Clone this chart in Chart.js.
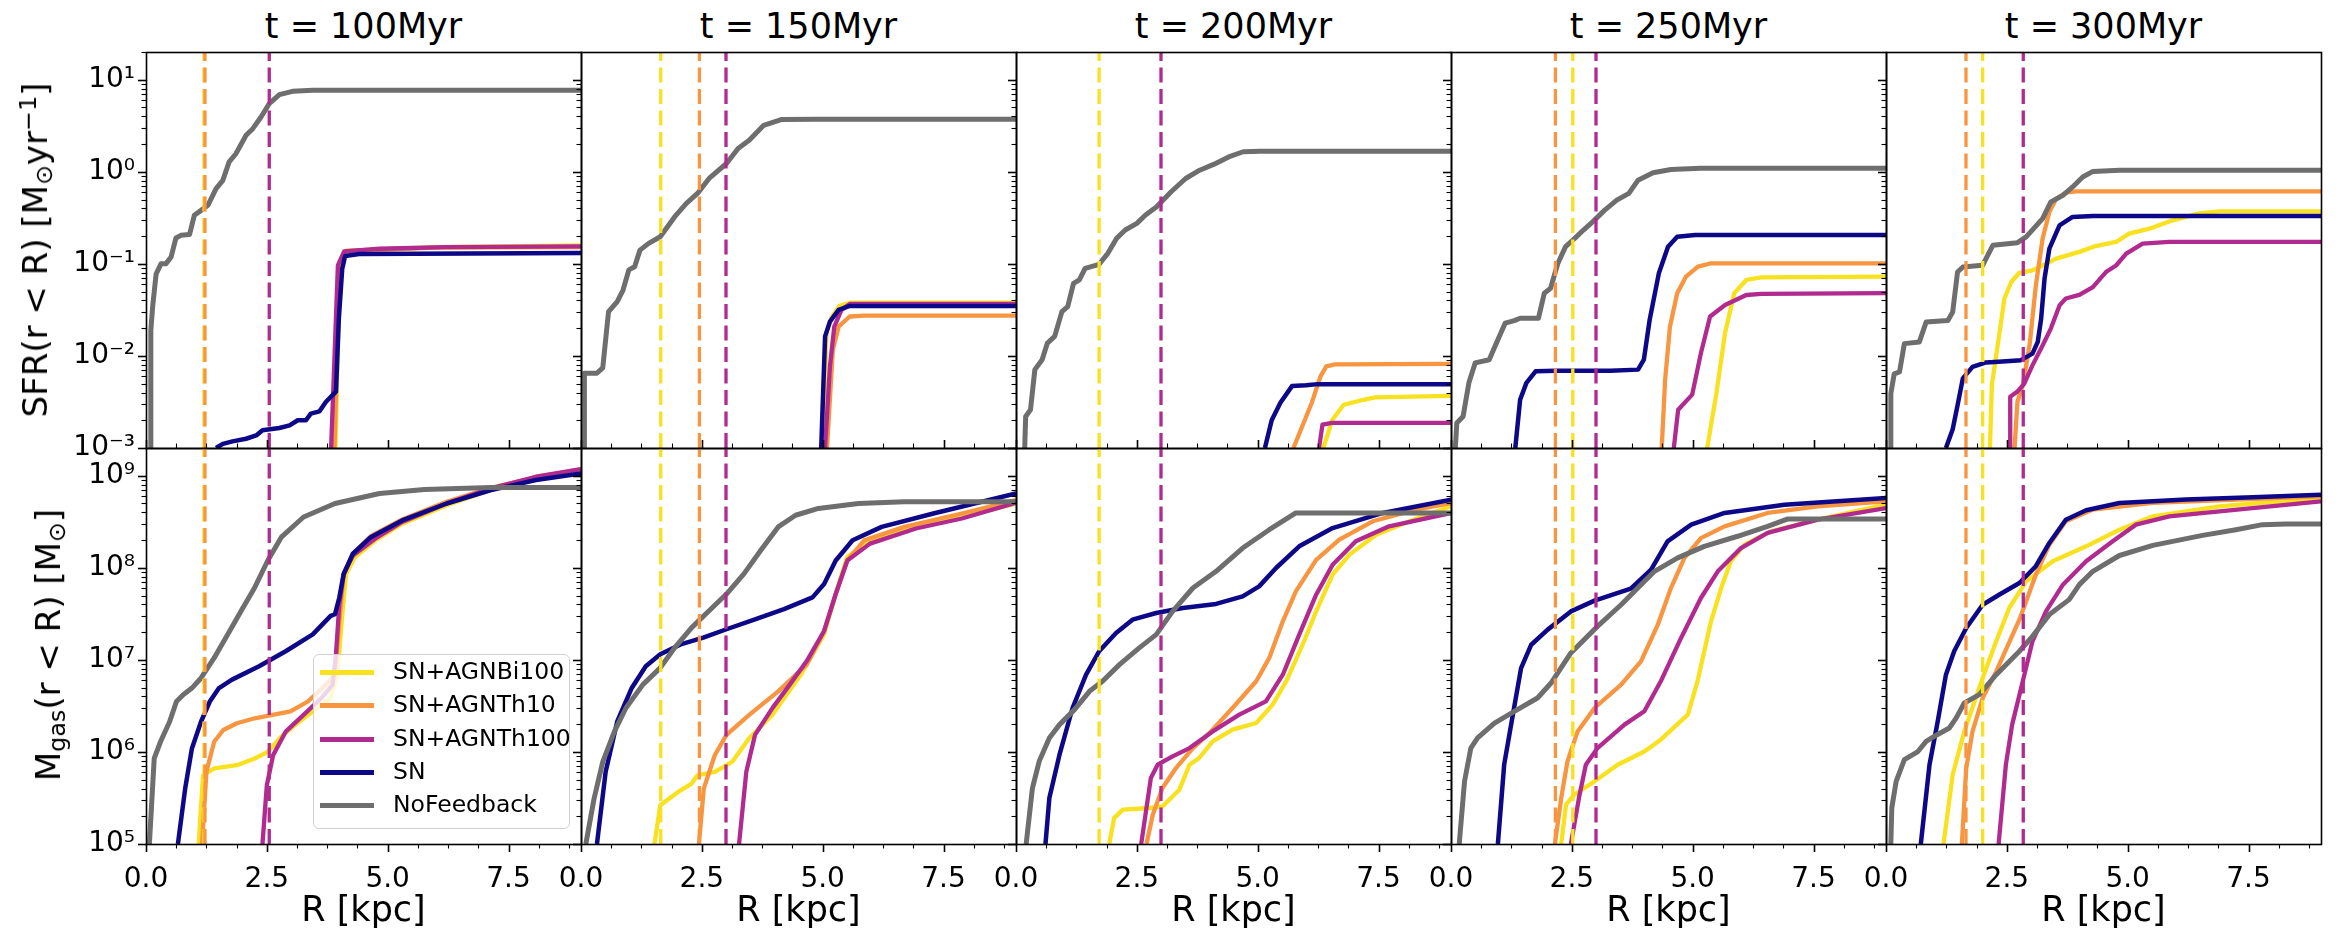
<!DOCTYPE html>
<html><head><meta charset="utf-8">
<script src="https://cdn.jsdelivr.net/npm/chart.js@4.4.1/dist/chart.umd.min.js"></script>
<style>
html,body{margin:0;padding:0;background:#fff;}
body{width:2344px;height:947px;overflow:hidden;position:relative;font-family:"DejaVu Sans",sans-serif;color:#000;}
canvas{position:absolute;}
.txt{position:absolute;white-space:nowrap;line-height:1;z-index:5;}
.ttl{font-size:35px;transform:translateX(-50%);}
.xl{font-size:35px;transform:translateX(-50%);}
.yl{font-size:34px;transform:translate(-50%,-50%) rotate(-90deg);}
.sb{font-size:0.7em;vertical-align:-0.22em;line-height:0;}
.sp{font-size:0.7em;vertical-align:0.45em;line-height:0;}
#legend{position:absolute;left:313px;top:654px;width:255px;height:173px;border:1px solid #d0d0d0;border-radius:6px;background:rgba(255,255,255,0.8);z-index:6;}
.le{position:absolute;left:6px;height:33px;width:246px;font-size:23.5px;}
.le i{position:absolute;left:0;top:14px;width:54px;height:5px;}
.le span{position:absolute;left:73px;top:4px;line-height:1;}
</style></head>
<body>
<script>
// ---------------- DATA ----------------
const timeLabels = ['t = 100Myr','t = 150Myr','t = 200Myr','t = 250Myr','t = 300Myr'];
const xTickLabels = ['0.0','2.5','5.0','7.5'];
const seriesNames = ['SN+AGNBi100','SN+AGNTh10','SN+AGNTh100','SN','NoFeedback'];

// dashed vertical markers (kpc) per snapshot
const vYellow  = [1.20, 1.65, 1.72, 2.52, 2.00];
const vOrange  = [1.22, 2.45, null, 2.16, 1.655];
const vMagenta = [2.55, 3.00, 3.00, 3.00, 2.84];

// SFR(r<R) [Msun/yr]  -- pairs [R, value]
const sfr100_bi   = [[3.92,0.001],[4.01,0.096],[4.14,0.138],[6.0,0.152],[9.0,0.159]];
const sfr100_th10 = [[3.90,0.001],[4.00,0.096],[4.14,0.138],[6.0,0.150],[9.0,0.152]];
const sfr100_th100= [[3.83,0.001],[3.97,0.096],[4.10,0.137],[4.83,0.146],[6.2,0.152],[9.0,0.155]];
const sfr100_sn   = [[1.45,0.001],[1.59,0.00111],[1.79,0.00118],[2.07,0.00126],[2.28,0.00137],[2.41,0.00156],[2.76,0.00165],[2.97,0.00176],[3.14,0.0020],[3.31,0.0020],[3.41,0.00236],[3.59,0.0025],[3.72,0.00316],[3.93,0.0041],[3.99,0.0254],[4.06,0.0887],[4.12,0.122],[4.41,0.128],[9.0,0.131]];
const sfr100_nofb = [[0.10,0.001],[0.10,0.019],[0.14,0.0354],[0.21,0.078],[0.31,0.100],[0.41,0.100],[0.52,0.119],[0.62,0.191],[0.72,0.204],[0.90,0.208],[1.0,0.337],[1.14,0.381],[1.28,0.432],[1.45,0.656],[1.59,0.808],[1.72,1.28],[1.86,1.57],[2.07,2.49],[2.21,2.94],[2.38,3.94],[2.55,5.50],[2.76,6.88],[3.03,7.48],[3.45,7.67],[9.0,7.67]];

const sfr150_bi   = [[5.00,0.001],[5.08,0.0175],[5.18,0.026],[5.35,0.035],[5.58,0.0379],[9.0,0.0379]];
const sfr150_th10 = [[5.09,0.001],[5.21,0.0116],[5.33,0.0208],[5.56,0.0268],[5.86,0.0274],[9.0,0.0274]];
const sfr150_th100= [[5.05,0.001],[5.15,0.0077],[5.24,0.0208],[5.39,0.0316],[5.56,0.0367],[9.0,0.0367]];
const sfr150_sn   = [[4.97,0.001],[5.05,0.0163],[5.15,0.0236],[5.33,0.0316],[5.56,0.0349],[9.0,0.0349]];
const sfr150_nofb = [[0.07,0.001],[0.07,0.0065],[0.33,0.0065],[0.45,0.0074],[0.57,0.0303],[0.75,0.039],[0.87,0.052],[0.99,0.086],[1.11,0.093],[1.22,0.141],[1.40,0.167],[1.64,0.197],[1.94,0.325],[2.18,0.453],[2.41,0.582],[2.65,0.846],[3.01,1.23],[3.25,1.79],[3.48,2.20],[3.78,3.20],[4.14,3.69],[4.91,3.72],[9.0,3.72]];

const sfr200_bi   = [[6.36,0.001],[6.54,0.0020],[6.78,0.00295],[7.19,0.00334],[7.43,0.00354],[9.0,0.00369]];
const sfr200_th10 = [[5.74,0.001],[5.95,0.00187],[6.12,0.0031],[6.30,0.0060],[6.42,0.0077],[6.60,0.0081],[9.0,0.0082]];
const sfr200_th100= [[6.27,0.001],[6.34,0.00179],[6.54,0.00187],[9.0,0.00187]];
const sfr200_sn   = [[5.15,0.001],[5.29,0.0020],[5.47,0.0031],[5.71,0.0047],[6.0,0.0048],[6.24,0.00494],[9.0,0.00494]];
const sfr200_nofb = [[0.18,0.001],[0.20,0.0022],[0.30,0.0026],[0.39,0.0071],[0.54,0.0091],[0.65,0.0138],[0.80,0.0163],[0.95,0.0303],[1.07,0.0344],[1.19,0.0615],[1.31,0.0669],[1.43,0.0895],[1.72,0.0989],[1.90,0.130],[2.08,0.189],[2.26,0.233],[2.50,0.275],[2.68,0.339],[2.91,0.417],[3.21,0.607],[3.51,0.846],[3.80,1.04],[4.10,1.21],[4.40,1.45],[4.70,1.65],[5.05,1.67],[9.0,1.67]];

const sfr250_bi   = [[5.30,0.001],[5.49,0.0039],[5.67,0.0177],[5.86,0.048],[6.11,0.0668],[6.42,0.0714],[9.0,0.0726]];
const sfr250_th10 = [[4.36,0.001],[4.43,0.0055],[4.53,0.0208],[4.68,0.048],[4.86,0.0726],[5.11,0.0933],[5.36,0.101],[9.0,0.101]];
const sfr250_th100= [[4.61,0.001],[4.70,0.0026],[4.99,0.0038],[5.17,0.0107],[5.36,0.0268],[5.67,0.0358],[6.11,0.0459],[6.42,0.0471],[9.0,0.048]];
const sfr250_sn   = [[1.33,0.001],[1.43,0.00334],[1.56,0.0051],[1.75,0.0068],[2.18,0.0069],[3.30,0.0069],[3.87,0.0071],[3.99,0.0091],[4.11,0.0246],[4.30,0.0789],[4.49,0.153],[4.68,0.197],[5.05,0.206],[9.0,0.206]];
const sfr250_nofb = [[0.09,0.001],[0.12,0.00187],[0.25,0.0022],[0.37,0.0051],[0.50,0.0084],[0.79,0.0091],[0.94,0.0138],[1.12,0.0227],[1.31,0.0242],[1.43,0.0257],[1.81,0.0257],[1.93,0.048],[2.06,0.0543],[2.21,0.101],[2.37,0.154],[2.56,0.189],[2.74,0.233],[2.93,0.286],[3.18,0.383],[3.43,0.492],[3.68,0.582],[3.87,0.811],[4.18,0.975],[4.55,1.06],[5.17,1.09],[9.0,1.09]];

const sfr300_bi   = [[2.15,0.001],[2.19,0.0048],[2.31,0.013],[2.45,0.042],[2.59,0.0635],[2.76,0.080],[3.03,0.085],[3.24,0.096],[3.52,0.114],[4.0,0.135],[4.34,0.156],[4.76,0.173],[5.03,0.213],[5.45,0.241],[5.93,0.297],[6.48,0.354],[6.90,0.372],[9.0,0.372]];
const sfr300_th10 = [[2.66,0.001],[2.72,0.0032],[2.83,0.0048],[2.97,0.013],[3.10,0.058],[3.24,0.188],[3.38,0.366],[3.52,0.510],[3.72,0.593],[3.93,0.614],[9.0,0.614]];
const sfr300_th100= [[2.57,0.001],[2.57,0.0036],[2.72,0.0041],[2.86,0.0050],[3.03,0.0079],[3.24,0.013],[3.41,0.0198],[3.59,0.0354],[3.72,0.042],[4.0,0.046],[4.28,0.056],[4.55,0.0815],[4.76,0.096],[4.97,0.129],[5.31,0.166],[5.86,0.173],[9.0,0.173]];
const sfr300_sn   = [[1.24,0.001],[1.38,0.0016],[1.48,0.0029],[1.59,0.0057],[1.79,0.0076],[2.07,0.0085],[2.41,0.0087],[2.79,0.0090],[3.03,0.0106],[3.14,0.0142],[3.21,0.0254],[3.28,0.069],[3.38,0.146],[3.59,0.262],[3.86,0.323],[4.28,0.331],[9.0,0.331]];
const sfr300_nofb = [[0.10,0.001],[0.10,0.0039],[0.17,0.0064],[0.28,0.0067],[0.38,0.0136],[0.69,0.0142],[0.83,0.0233],[1.28,0.0243],[1.38,0.030],[1.48,0.0815],[1.59,0.0924],[2.0,0.0964],[2.07,0.114],[2.21,0.159],[2.72,0.170],[2.90,0.196],[3.24,0.310],[3.41,0.470],[3.66,0.555],[3.86,0.684],[4.07,0.877],[4.28,1.01],[4.83,1.04],[9.0,1.04]];

// Mgas(r<R) [Msun]
const mgas100_bi   = [[1.09,1e5],[1.18,5.58e5],[1.41,6.61e5],[1.88,7.18e5],[2.25,8.49e5],[2.52,1.0e6],[2.80,1.47e6],[3.08,1.96e6],[3.45,2.75e6],[3.82,3.85e6],[3.96,6.92e6],[4.05,2.65e7],[4.14,8.57e7],[4.32,1.30e8],[4.74,1.98e8],[5.30,3.01e8],[6.22,4.78e8],[7.14,7.0e8],[8.07,9.75e8],[9.0,1.15e9]];
const mgas100_th10 = [[1.16,1e5],[1.25,6.07e5],[1.41,1.29e6],[1.60,1.73e6],[1.88,2.05e6],[2.25,2.32e6],[2.62,2.53e6],[2.99,2.75e6],[3.35,3.53e6],[3.72,5.37e6],[3.91,6.92e6],[4.0,2.65e7],[4.09,8.57e7],[4.28,1.42e8],[4.65,2.2e8],[5.30,3.35e8],[6.22,5.2e8],[7.14,7.4e8],[8.07,9.6e8],[9.0,1.17e9]];
const mgas100_th100= [[2.41,1e5],[2.50,4.35e5],[2.63,9.23e5],[2.89,1.66e6],[3.26,2.53e6],[3.63,3.85e6],[3.86,5.37e6],[3.93,1.14e7],[4.0,4.03e7],[4.09,8.57e7],[4.28,1.36e8],[4.74,2.07e8],[5.30,3.14e8],[6.22,4.99e8],[7.14,7.28e8],[8.07,9.75e8],[9.0,1.18e9]];
const mgas100_sn   = [[0.66,1e5],[0.81,3.99e5],[0.95,1.09e6],[1.14,2.14e6],[1.32,3.53e6],[1.51,4.94e6],[1.78,6.10e6],[2.34,8.53e6],[2.89,1.24e7],[3.45,1.89e7],[3.82,3.0e7],[3.91,3.13e7],[4.0,4.76e7],[4.09,8.57e7],[4.28,1.42e8],[4.65,2.15e8],[5.30,3.27e8],[6.22,4.99e8],[7.14,6.97e8],[8.07,8.97e8],[9.0,1.06e9]];
const mgas100_nofb = [[0.07,1e5],[0.17,8.5e5],[0.30,1.29e6],[0.49,2.14e6],[0.63,3.53e6],[0.77,4.18e6],[0.95,4.94e6],[1.14,6.36e6],[1.41,1.05e7],[1.69,1.89e7],[1.97,3.41e7],[2.25,6.12e7],[2.52,1.20e8],[2.80,2.15e8],[3.26,3.56e8],[3.91,4.99e8],[4.83,6.41e8],[5.76,7.10e8],[7.14,7.45e8],[9.0,7.45e8]];

const mgas150_bi   = [[1.52,1e5],[1.64,2.63e5],[1.82,3.1e5],[2.06,3.83e5],[2.29,4.53e5],[2.41,5.58e5],[2.77,6.08e5],[3.13,7.82e5],[3.48,1.41e6],[3.96,2.53e6],[4.55,6.92e6],[5.03,1.90e7],[5.27,5.19e7],[5.51,1.31e8],[5.98,1.99e8],[6.93,2.78e8],[7.88,3.57e8],[9.0,5.0e8]];
const mgas150_th10 = [[2.44,1e5],[2.54,3.99e5],[2.77,9.25e5],[3.01,1.53e6],[3.48,2.53e6],[4.08,4.55e6],[4.67,8.91e6],[5.03,2.06e7],[5.27,5.19e7],[5.51,1.2e8],[5.86,1.99e8],[6.69,2.78e8],[7.88,3.89e8],[9.0,5.43e8]];
const mgas150_th100= [[3.27,1e5],[3.42,6.08e5],[3.60,1.53e6],[3.96,2.99e6],[4.32,5.38e6],[4.67,9.69e6],[5.03,2.06e7],[5.27,5.19e7],[5.51,1.2e8],[5.98,1.83e8],[6.93,2.67e8],[7.88,3.43e8],[9.0,5.08e8]];
const mgas150_sn   = [[0.33,1e5],[0.51,6.08e5],[0.75,2.14e6],[1.05,4.95e6],[1.34,8.53e6],[1.64,1.15e7],[2.06,1.47e7],[2.53,1.74e7],[3.01,2.15e7],[3.60,2.76e7],[4.20,3.56e7],[4.79,4.77e7],[5.03,6.67e7],[5.27,1.2e8],[5.62,1.99e8],[6.22,2.78e8],[7.29,3.89e8],[9.0,6.43e8]];
const mgas150_nofb = [[0.10,1e5],[0.27,3.1e5],[0.45,7.8e5],[0.69,1.66e6],[0.93,3.0e6],[1.28,5.38e6],[1.64,8.19e6],[1.94,1.36e7],[2.29,2.24e7],[2.65,3.41e7],[3.01,5.19e7],[3.37,8.59e7],[3.72,1.55e8],[4.08,2.78e8],[4.44,3.72e8],[4.91,4.41e8],[5.74,5.0e8],[6.69,5.21e8],[9.0,5.21e8]];

const mgas200_bi   = [[1.93,1e5],[2.03,1.91e5],[2.21,2.36e5],[2.76,2.46e5],[3.03,2.56e5],[3.38,3.89e5],[3.59,7.26e5],[3.79,8.59e5],[4.07,1.3e6],[4.48,1.75e6],[4.97,2.06e6],[5.31,3.26e6],[5.59,5.85e6],[5.93,1.46e7],[6.21,3.36e7],[6.55,8.41e7],[6.90,1.39e8],[7.45,2.29e8],[8.14,3.2e8],[9.0,4.65e8]];
const mgas200_th10 = [[2.70,1e5],[2.83,2.08e5],[3.03,4.05e5],[3.31,6.68e5],[3.66,1.1e6],[4.0,1.6e6],[4.48,3.0e6],[4.97,5.85e6],[5.24,1.05e7],[5.52,2.62e7],[5.79,5.55e7],[6.21,1.22e8],[6.69,2.02e8],[7.38,3.2e8],[8.28,4.28e8],[9.0,5.06e8]];
const mgas200_th100= [[2.59,1e5],[2.79,5.21e5],[2.93,7.26e5],[3.24,8.95e5],[3.59,1.1e6],[4.07,1.67e6],[4.62,2.54e6],[5.17,3.54e6],[5.52,6.9e6],[5.86,1.88e7],[6.21,5.1e7],[6.55,1.08e8],[7.03,1.94e8],[7.72,2.82e8],[9.0,3.94e8]];
const mgas200_sn   = [[0.61,1e5],[0.69,3.16e5],[0.90,9.33e5],[1.17,3.0e6],[1.45,6.9e6],[1.72,1.24e7],[2.07,1.96e7],[2.41,2.73e7],[2.90,3.23e7],[3.45,3.66e7],[4.14,4.05e7],[4.69,4.9e7],[5.03,6.28e7],[5.38,9.95e7],[5.86,1.71e8],[6.55,2.7e8],[7.59,3.94e8],[9.0,5.5e8]];
const mgas200_nofb = [[0.21,1e5],[0.34,4.05e5],[0.48,7.9e5],[0.69,1.42e6],[0.90,1.98e6],[1.21,2.88e6],[1.52,4.55e6],[1.79,5.85e6],[2.14,8.87e6],[2.55,1.35e7],[2.90,1.88e7],[3.24,3.36e7],[3.66,6.03e7],[4.14,9.15e7],[4.69,1.64e8],[5.24,2.59e8],[5.79,3.94e8],[9.0,3.94e8]];

const mgas250_bi   = [[2.28,1e5],[2.38,2.67e5],[2.55,3.43e5],[2.97,4.79e5],[3.45,7.26e5],[4.0,1.01e6],[4.34,1.36e6],[4.90,2.54e6],[5.10,5.85e6],[5.38,2.62e7],[5.59,6.03e7],[5.79,1.18e8],[6.07,1.78e8],[6.62,2.49e8],[7.59,3.33e8],[9.0,4.85e8]];
const mgas250_th10 = [[2.15,1e5],[2.28,3.16e5],[2.41,7.9e5],[2.62,1.67e6],[2.97,3.0e6],[3.52,5.37e6],[3.93,9.64e6],[4.28,2.41e7],[4.55,6.03e7],[4.83,1.28e8],[5.17,2.1e8],[5.66,2.82e8],[6.55,3.94e8],[7.59,4.65e8],[9.0,5.27e8]];
const mgas250_th100= [[2.48,1e5],[2.66,3.43e5],[2.79,7.26e5],[3.03,1.1e6],[3.59,1.98e6],[4.0,2.76e6],[4.34,5.85e6],[4.76,1.73e7],[5.17,4.7e7],[5.52,9.15e7],[6.0,1.64e8],[6.55,2.39e8],[7.59,3.33e8],[9.0,4.46e8]];
const mgas250_sn   = [[0.97,1e5],[1.10,7.26e5],[1.28,2.54e6],[1.45,8.15e6],[1.66,1.46e7],[2.0,2.13e7],[2.48,3.36e7],[2.97,4.4e7],[3.72,5.93e7],[4.14,9.53e7],[4.48,1.94e8],[4.97,2.94e8],[5.66,3.94e8],[6.90,4.85e8],[9.0,5.73e8]];
const mgas250_nofb = [[0.17,1e5],[0.28,4.79e5],[0.41,1.1e6],[0.55,1.42e6],[0.90,2.06e6],[1.31,2.76e6],[1.79,3.85e6],[2.07,5.6e6],[2.48,1.19e7],[3.03,2.31e7],[3.52,3.97e7],[3.93,6.56e7],[4.21,9.15e7],[4.69,1.28e8],[5.24,1.71e8],[5.93,2.2e8],[6.55,2.82e8],[6.97,3.39e8],[9.0,3.39e8]];

const mgas300_bi   = [[1.19,1e5],[1.38,5.66e5],[1.62,1.67e6],[2.0,6.35e6],[2.28,1.59e7],[2.55,3.66e7],[2.90,7.13e7],[3.45,1.18e8],[4.14,1.71e8],[4.83,2.59e8],[5.52,3.62e8],[6.90,4.65e8],[9.0,5.73e8]];
const mgas300_th10 = [[1.57,1e5],[1.66,6.68e5],[1.79,1.67e6],[2.0,3.85e6],[2.28,7.5e6],[2.76,2.73e7],[3.10,8.41e7],[3.38,1.78e8],[3.72,3.2e8],[4.28,4.28e8],[5.52,5.06e8],[9.0,5.97e8]];
const mgas300_th100= [[2.33,1e5],[2.48,7.26e5],[2.61,1.98e6],[2.83,5.85e6],[3.03,1.59e7],[3.31,3.36e7],[3.66,6.56e7],[4.14,1.18e8],[4.69,1.94e8],[5.17,2.94e8],[5.86,3.62e8],[6.90,4.1e8],[9.0,5.27e8]];
const mgas300_sn   = [[0.72,1e5],[0.90,7.26e5],[1.07,2.15e6],[1.24,6.9e6],[1.41,1.24e7],[1.66,2.22e7],[2.0,3.97e7],[2.34,5.1e7],[2.76,6.84e7],[3.10,1.04e8],[3.38,1.86e8],[3.72,3.33e8],[4.14,4.21e8],[4.83,5.06e8],[6.21,5.5e8],[7.59,5.82e8],[9.0,6.22e8]];
const mgas300_nofb = [[0.10,1e5],[0.12,2.46e5],[0.21,4.79e5],[0.38,8.24e5],[0.66,1.01e6],[0.83,1.3e6],[1.03,1.51e6],[1.31,1.82e6],[1.45,2.33e6],[1.62,3.4e6],[1.93,4.19e6],[2.28,6.9e6],[2.76,1.24e7],[3.03,1.8e7],[3.38,3.1e7],[3.79,4.51e7],[4.0,6.56e7],[4.28,9.15e7],[4.83,1.36e8],[5.52,1.75e8],[6.55,2.25e8],[7.24,2.59e8],[7.79,2.94e8],[8.28,2.99e8],[9.0,2.99e8]];

// ---------------- STYLE / LAYOUT ----------------
const COL_BI='#f8e11f', COL_TH10='#f89540', COL_TH100='#b12a90', COL_SN='#0d0887', COL_NOFB='#6e6e6e';
const seriesColors=[COL_BI,COL_TH10,COL_TH100,COL_SN,COL_NOFB];
const PX=[146,581,1016,1451,1886], PW=435, PY=[52,448], PH=396;
const YR=[[1e-3,20],[1e5,2e9]];
const FONT="'DejaVu Sans', sans-serif";
Chart.defaults.font.family=FONT;

const sfrPanels=[[sfr100_bi,sfr100_th10,sfr100_th100,sfr100_sn,sfr100_nofb],[sfr150_bi,sfr150_th10,sfr150_th100,sfr150_sn,sfr150_nofb],[sfr200_bi,sfr200_th10,sfr200_th100,sfr200_sn,sfr200_nofb],[sfr250_bi,sfr250_th10,sfr250_th100,sfr250_sn,sfr250_nofb],[sfr300_bi,sfr300_th10,sfr300_th100,sfr300_sn,sfr300_nofb]];
const mgasPanels=[[mgas100_bi,mgas100_th10,mgas100_th100,mgas100_sn,mgas100_nofb],[mgas150_bi,mgas150_th10,mgas150_th100,mgas150_sn,mgas150_nofb],[mgas200_bi,mgas200_th10,mgas200_th100,mgas200_sn,mgas200_nofb],[mgas250_bi,mgas250_th10,mgas250_th100,mgas250_sn,mgas250_nofb],[mgas300_bi,mgas300_th10,mgas300_th100,mgas300_sn,mgas300_nofb]];

const SUP={'-':'\u207B','0':'\u2070','1':'\u00B9','2':'\u00B2','3':'\u00B3','4':'\u2074','5':'\u2075','6':'\u2076','7':'\u2077','8':'\u2078','9':'\u2079'};
function decadeLabel(v){
  const l=Math.log10(v), r=Math.round(l);
  if(Math.abs(l-r)>1e-6) return '';
  return '10'+String(r).split('').map(c=>SUP[c]).join('');
}

const frameTicks={
  id:'frameTicks',
  afterDatasetsDraw(chart,args,opts){
    const {ctx,chartArea:a,scales:{x,y}}=chart;
    ctx.save();
    ctx.strokeStyle='#000';
    const dir=opts.row===0?-1:1;
    for(let i=0;i*0.625<=9.0001;i++){
      const v=i*0.625, major=(i%4===0);
      const px=Math.round(x.getPixelForValue(v))+0.5;
      ctx.lineWidth=major?1.6:1.1;
      ctx.beginPath();ctx.moveTo(px,a.bottom);ctx.lineTo(px,a.bottom+dir*(major?8:4.5));ctx.stroke();
    }
    const [mn,mx]=YR[opts.row];
    for(let d=Math.floor(Math.log10(mn));d<=Math.ceil(Math.log10(mx));d++){
      for(let k=1;k<=9;k++){
        const v=k*Math.pow(10,d);
        if(v<mn*0.999||v>mx*1.001) continue;
        const py=Math.round(y.getPixelForValue(v))+0.5;
        ctx.lineWidth=k===1?1.6:1.1;
        ctx.beginPath();ctx.moveTo(a.left,py);ctx.lineTo(a.left-(k===1?8:4.5),py);ctx.stroke();
      }
    }
    ctx.lineWidth=1.6;
    ctx.strokeRect(Math.round(a.left)+0.5,Math.round(a.top)+0.5,Math.round(a.right-a.left),Math.round(a.bottom-a.top));
    ctx.restore();
  }
};

function lineDs(data,color,width,order){
  return {data:data.map(p=>({x:p[0],y:p[1]})),borderColor:color,borderWidth:width,pointRadius:0,tension:0,fill:false,order:order,clip:0,borderJoinStyle:'round',borderCapStyle:'butt'};
}
function vlineDs(xv,color,row,order){
  const [mn,mx]=YR[row];
  return {data:[{x:xv,y:mn},{x:xv,y:mx}],borderColor:color,borderWidth:3.3,borderDash:[15,6.5],pointRadius:0,tension:0,fill:false,order:order,clip:0};
}

function makePanel(row,col){
  const padL=col===0?146:32, padR=4, padT=4, padB=row===1?100:12;
  const W=padL+PW+padR, H=padT+PH+padB;
  const cv=document.createElement('canvas');
  cv.width=W;cv.height=H;
  cv.style.left=(PX[col]-padL)+'px';cv.style.top=(PY[row]-padT)+'px';
  cv.style.width=W+'px';cv.style.height=H+'px';
  document.body.appendChild(cv);
  const src=row===0?sfrPanels[col]:mgasPanels[col];
  const widths=[4.3,4.3,4.3,4.5,5];
  const orders=[5,4,3,2,1];
  const ds=src.map((d,i)=>lineDs(d,seriesColors[i],widths[i],orders[i]));
  if(vYellow[col]!==null) ds.push(vlineDs(vYellow[col],COL_BI,row,0.3));
  if(vOrange[col]!==null) ds.push(vlineDs(vOrange[col],COL_TH10,row,0.2));
  if(vMagenta[col]!==null) ds.push(vlineDs(vMagenta[col],COL_TH100,row,0.1));
  const [mn,mx]=YR[row];
  new Chart(cv,{
    type:'line',
    data:{datasets:ds},
    plugins:[frameTicks],
    options:{
      responsive:false,animation:false,devicePixelRatio:1,
      layout:{autoPadding:false,padding:{left:0,top:padT,right:padR,bottom:0}},
      plugins:{legend:{display:false},tooltip:{enabled:false},frameTicks:{row:row}},
      scales:{
        x:{type:'linear',min:0,max:9,
           afterFit(s){s.height=padB;s.paddingLeft=0;s.paddingRight=0;s.paddingTop=0;s.paddingBottom=0;},
           grid:{display:false,drawTicks:false},border:{display:false},
           ticks:{display:row===1,stepSize:2.5,includeBounds:false,autoSkip:false,maxRotation:0,padding:19,color:'#000',font:{size:28,family:FONT},
             callback:(v)=>{const i=Math.round(v/2.5); return Math.abs(v-i*2.5)<1e-9&&i<xTickLabels.length?xTickLabels[i]:'';}}},
        y:{type:'logarithmic',min:mn,max:mx,
           afterFit(s){s.width=padL;s.paddingTop=0;s.paddingBottom=0;s.paddingLeft=0;s.paddingRight=0;},
           grid:{display:false,drawTicks:false},border:{display:false},
           ticks:{display:col===0,autoSkip:false,padding:11,color:'#000',font:{size:28,family:FONT},callback:(v)=>decadeLabel(v)}}
      }
    }
  });
}
for(let r=0;r<2;r++)for(let c=0;c<5;c++)makePanel(r,c);

// text
function addText(cls,html,left,top){
  const d=document.createElement('div');d.className='txt '+cls;d.innerHTML=html;d.style.left=left+'px';d.style.top=top+'px';document.body.appendChild(d);
}
for(let c=0;c<5;c++){
  addText('ttl',timeLabels[c],PX[c]+PW/2,9);
  addText('xl','R [kpc]',PX[c]+PW/2,892);
}
addText('yl','SFR(r &lt; R) [M<span class="sb">\u2299</span>yr<span class="sp">\u22121</span>]',35,250);
addText('yl','M<span class="sb">gas</span>(r &lt; R) [M<span class="sb">\u2299</span>]',48,645);

// legend
const lg=document.createElement('div');lg.id='legend';
seriesNames.forEach((n,i)=>{
  const e=document.createElement('div');e.className='le';e.style.top=(1+i*33.3)+'px';
  e.innerHTML='<i style="background:'+seriesColors[i]+'"></i><span>'+n+'</span>';
  lg.appendChild(e);
});
document.body.appendChild(lg);
</script>
</body></html>
